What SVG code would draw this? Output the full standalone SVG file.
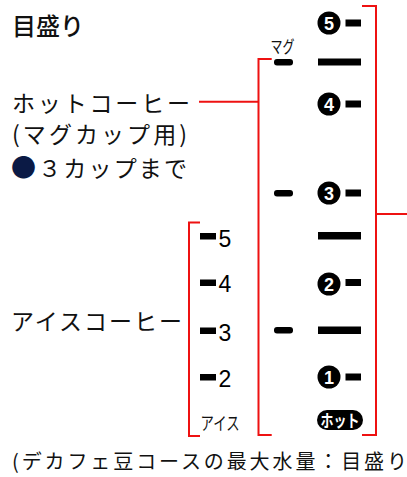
<svg xmlns="http://www.w3.org/2000/svg" width="407" height="477" viewBox="0 0 407 477">
<style>
.jp{font-family:"Noto Sans CJK JP","Noto Sans CJK SC",sans-serif;fill:#111;}
.num{font-family:"Liberation Sans",Arial,sans-serif;font-size:23px;fill:#000;}
.cd{font-family:"Liberation Sans",Arial,sans-serif;font-size:18px;font-weight:bold;fill:#fff;text-anchor:middle;}
.red{fill:none;stroke:#ee1111;stroke-width:2;}
.bk{fill:#000;}
</style>
<rect width="407" height="477" fill="#fff"/>
<g id="title"><text class="jp" x="12" y="35" font-size="24" font-weight="500" textLength="72" lengthAdjust="spacing">目盛り</text></g>
<g id="hot-label">
<text class="jp" x="12" y="111.5" font-size="23" textLength="178" lengthAdjust="spacing">ホットコーヒー</text>
<text class="jp" x="12" y="142.5" font-size="23" textLength="175" lengthAdjust="spacing">(マグカップ用)</text>
<text class="jp" x="11" y="177" font-size="23" textLength="176" lengthAdjust="spacing"><tspan fill="#0b1a45" font-size="25">●</tspan>３カップまで</text>
</g>
<g id="ice-label"><text class="jp" x="11" y="330" font-size="23" textLength="171" lengthAdjust="spacing">アイスコーヒー</text></g>
<g id="note"><text class="jp" x="12" y="468.5" font-size="20" textLength="395" lengthAdjust="spacing">(デカフェ豆コースの最大水量：目盛り</text></g>
<g id="connectors">
<path class="red" d="M199,101.7 H258.5"/>
<path class="red" d="M271.7,59 H258.5 V435 H271.7"/>
<path class="red" d="M362,6 H376 V435 H362"/>
<path class="red" d="M376,214 H407"/>
<path class="red" d="M200,222.5 H189 V436 H200"/>
</g>
<g id="ice-scale">
<rect class="bk" x="200" y="233" width="16" height="6.5"/>
<text class="num" x="218.5" y="246.5">5</text>
<rect class="bk" x="200" y="279.5" width="16" height="6.5"/>
<text class="num" x="218.5" y="292">4</text>
<rect class="bk" x="200" y="327.5" width="16" height="6.5"/>
<text class="num" x="218.5" y="340.5">3</text>
<rect class="bk" x="200" y="374" width="16" height="6.5"/>
<text class="num" x="218.5" y="386.5">2</text>
<text class="jp" x="200.5" y="430" font-size="18" textLength="39" lengthAdjust="spacingAndGlyphs">アイス</text>
</g>
<g id="mug-scale">
<text class="jp" x="270.5" y="53" font-size="17" textLength="24" lengthAdjust="spacingAndGlyphs">マグ</text>
<rect class="bk" x="274" y="59" width="19" height="6.5" rx="3"/>
<rect class="bk" x="274" y="190" width="19" height="6.5" rx="3"/>
<rect class="bk" x="274" y="327" width="19" height="6.5" rx="3"/>
</g>
<g id="hot-scale">
<circle class="bk" cx="329" cy="23" r="11.5"/><text class="cd" x="329" y="29.5">5</text>
<rect class="bk" x="345.5" y="19.5" width="15.5" height="7"/>
<rect class="bk" x="318" y="58.5" width="43" height="7"/>
<circle class="bk" cx="329" cy="104" r="11.5"/><text class="cd" x="329" y="110.5">4</text>
<rect class="bk" x="345.5" y="100.5" width="15.5" height="7"/>
<circle class="bk" cx="329" cy="193" r="11.5"/><text class="cd" x="329" y="199.5">3</text>
<rect class="bk" x="345.5" y="189.5" width="15.5" height="7"/>
<rect class="bk" x="318" y="232" width="43" height="7.5"/>
<circle class="bk" cx="329" cy="284" r="11.5"/><text class="cd" x="329" y="290.5">2</text>
<rect class="bk" x="345.5" y="279" width="15.5" height="7"/>
<rect class="bk" x="318" y="326.5" width="43" height="7.5"/>
<circle class="bk" cx="329" cy="377" r="11.5"/><text class="cd" x="329" y="383.5">1</text>
<rect class="bk" x="345.5" y="373.5" width="15.5" height="7"/>
<rect class="bk" x="317" y="410" width="46" height="20" rx="10"/>
<text class="jp" x="320.5" y="427" font-size="17" font-weight="bold" textLength="39" lengthAdjust="spacingAndGlyphs" style="fill:#fff">ホット</text>
</g>
</svg>
